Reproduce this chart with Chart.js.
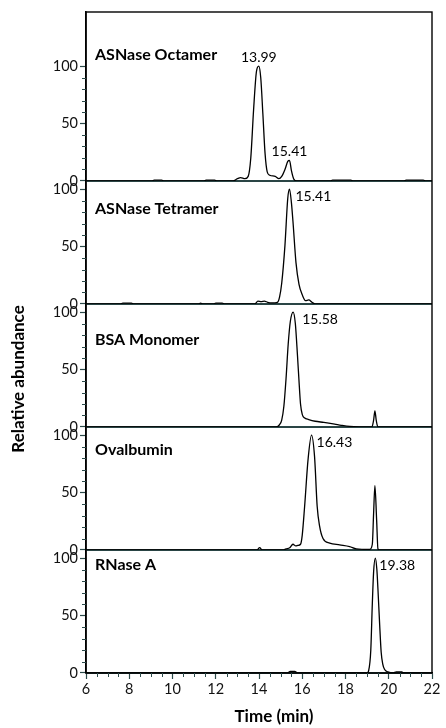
<!DOCTYPE html>
<html lang="en">
<head>
    <meta charset="UTF-8" />
    <title>SEC chromatograms</title>
    <script src="https://cdn.jsdelivr.net/npm/chart.js"></script>
    <style>
        html, body { margin: 0; padding: 0; background: #fff; }
        #wrap { position: relative; width: 446px; height: 728px; }
    </style>
</head>
<body>
<div id="wrap"><canvas id="secChart"></canvas></div>

<script>
// protein standards, one trace per panel (top to bottom)
const panelNames = ['ASNase Octamer', 'ASNase Tetramer', 'BSA Monomer', 'Ovalbumin', 'RNase A'];
const yMax = [147, 107, 107, 107, 107];

const octamerTime  = [6, 9.05, 9.15, 9.5, 9.6, 11.45, 11.55, 11.95, 12.05, 12.8, 13.0, 13.15, 13.35, 13.5, 13.62, 13.75, 13.88, 13.99, 14.08, 14.18, 14.28, 14.38, 14.5, 14.75, 14.92, 15.05, 15.2, 15.33, 15.41, 15.5, 15.6, 15.75, 17.3, 17.4, 18.25, 18.35, 20.7, 20.8, 21.6, 21.7, 22];
const octamerAbund = [0, 0, 0.8, 0.8, 0, 0, 0.8, 0.8, 0, 0, 2, 3, 2, 4, 20, 62, 95, 100, 90, 58, 24, 8, 5, 4, 2, 4, 10, 17, 18, 9, 2, 0, 0, 0.8, 0.8, 0, 0, 0.8, 0.8, 0, 0];

const tetramerTime  = [6, 7.6, 7.7, 8.1, 8.2, 11.2, 11.3, 11.4, 11.9, 12.0, 12.3, 12.4, 13.8, 13.95, 14.1, 14.25, 14.4, 14.6, 14.85, 14.95, 15.05, 15.2, 15.33, 15.41, 15.5, 15.57, 15.71, 15.85, 16.0, 16.15, 16.3, 16.45, 16.6, 22];
const tetramerAbund = [0, 0, 0.8, 0.8, 0, 0, 0.8, 0, 0, 0.8, 0.8, 0, 0, 2.5, 2, 2.5, 1.5, 1, 1.5, 6, 18, 51, 92, 100, 88, 72, 36, 17, 8, 3, 3.5, 1.5, 0, 0];

const bsaTime  = [6, 14.8, 14.95, 15.05, 15.15, 15.25, 15.35, 15.45, 15.58, 15.68, 15.78, 15.85, 15.92, 16.0, 16.1, 16.3, 16.6, 17.0, 17.5, 17.8, 18.2, 19.22, 19.3, 19.36, 19.42, 19.5, 22];
const bsaAbund = [0, 0, 2, 6, 18, 42, 72, 92, 100, 90, 62, 40, 20, 11, 8, 6.5, 5, 4, 2.5, 1.5, 0.5, 0, 6, 14, 6, 0, 0];

const ovalbuminTime  = [6, 13.9, 14.03, 14.15, 15.1, 15.25, 15.42, 15.57, 15.7, 15.8, 15.92, 16.0, 16.11, 16.27, 16.43, 16.57, 16.69, 16.8, 16.96, 17.27, 17.73, 18.19, 18.5, 19.12, 19.24, 19.3, 19.36, 19.44, 19.5, 19.6, 22];
const ovalbuminAbund = [0, 0, 2, 0, 0, 1, 2, 5, 3.5, 4, 5, 13, 38, 79, 100, 81, 38, 21, 10, 6, 4.5, 3, 1, 0.5, 5, 32, 56, 26, 1, 0, 0];

const rnaseTime  = [6, 15.3, 15.45, 15.65, 15.8, 19.0, 19.07, 19.17, 19.24, 19.3, 19.38, 19.45, 19.5, 19.58, 19.65, 19.72, 19.81, 19.96, 20.2, 20.35, 20.6, 20.7, 22];
const rnaseAbund = [0, 0, 1.5, 1.5, 0, 0, 2, 20, 60, 88, 100, 90, 73, 42, 18, 8, 3, 1, 0, 1, 1, 0, 0];

// labelled peak apexes per panel
const peakTimes   = [[13.99, 15.41], [15.41], [15.58], [16.43], [19.38]];
const peakHeights = [[100, 18], [100], [100], [100], [100]];

const xTicks = [6, 8, 10, 12, 14, 16, 18, 20, 22];
const yTicks = [0, 50, 100];

const traces = [
    [octamerTime, octamerAbund],
    [tetramerTime, tetramerAbund],
    [bsaTime, bsaAbund],
    [ovalbuminTime, ovalbuminAbund],
    [rnaseTime, rnaseAbund]
];

const tickColor = '#2c4a4a';
const nameLevel = [110, 83, 76, 87, 94];   // where each panel name sits, in y units
const labelDx = [0, 6, 9, 5, 4];
const FONT = 'Lato, "Open Sans", sans-serif';

Chart.defaults.font.family = FONT;
Chart.defaults.color = '#111';

const yId = i => 'y' + i;

const scales = {
    x: {
        type: 'linear',
        min: 6,
        max: 22,
        afterBuildTicks: s => { s.ticks = xTicks.map(v => ({ value: v })); },
        ticks: { font: { size: 14.5 }, color: '#111', padding: 2, maxRotation: 0 },
        grid: { drawOnChartArea: false, tickLength: 6, tickColor: tickColor, tickWidth: 1.2 },
        border: { color: '#000', width: 1.6 },
        afterFit: s => { s.height = 55; }
    }
};

// stacked axes are laid out bottom-up, so add the lowest panel first
for (let i = panelNames.length - 1; i >= 0; i--) {
    scales[yId(i)] = {
        type: 'linear',
        position: 'left',
        stack: 'panels',
        stackWeight: yMax[i],
        min: 0,
        max: yMax[i],
        afterBuildTicks: s => { s.ticks = yTicks.map(v => ({ value: v })); },
        ticks: { font: { size: 14.5 }, color: '#111', padding: 2 },
        grid: { drawOnChartArea: false, tickLength: 6, tickColor: tickColor, tickWidth: 1.2 },
        border: { color: '#000', width: 1.6 },
        afterFit: s => { s.width = 86; }
    };
}

const datasets = traces.map(([t, a], i) => ({
    label: panelNames[i],
    data: t.map((x, k) => ({ x: x, y: a[k] })),
    yAxisID: yId(i),
    borderColor: '#000',
    borderWidth: 1.3,
    pointRadius: 0,
    cubicInterpolationMode: 'monotone',
    fill: false
}));

// separators, frame, minor ticks and text on the plot
const decorations = {
    id: 'decorations',
    beforeDatasetsDraw(chart) {
        const ctx = chart.ctx, area = chart.chartArea;
        ctx.save();
        panelNames.forEach((n, i) => {
            const y = chart.scales[yId(i)].getPixelForValue(0);
            ctx.strokeStyle = '#2a4545';
            ctx.lineWidth = 2;
            ctx.beginPath();
            ctx.moveTo(area.left, y);
            ctx.lineTo(area.right, y);
            ctx.stroke();
        });
        ctx.restore();
    },
    afterDatasetsDraw(chart) {
        const ctx = chart.ctx, area = chart.chartArea;
        const xs = chart.scales.x;
        ctx.save();

        // outer frame
        ctx.strokeStyle = '#000';
        ctx.lineWidth = 1.4;
        ctx.strokeRect(area.left, area.top, area.right - area.left, area.bottom - area.top);

        // minor ticks
        ctx.strokeStyle = tickColor;
        ctx.lineWidth = 1;
        ctx.beginPath();
        for (let v = 6.5; v < 22; v += 0.5) {
            if (v % 2 === 0) continue;
            const px = Math.round(xs.getPixelForValue(v)) + 0.5;
            ctx.moveTo(px, area.bottom);
            ctx.lineTo(px, area.bottom + 4);
        }
        panelNames.forEach((n, i) => {
            const ys = chart.scales[yId(i)];
            for (let v = 10; v < 100; v += 10) {
                if (v === 50) continue;
                const py = Math.round(ys.getPixelForValue(v)) + 0.5;
                ctx.moveTo(area.left - 4, py);
                ctx.lineTo(area.left, py);
            }
        });
        ctx.stroke();

        // panel names and peak retention times
        ctx.fillStyle = '#000';
        panelNames.forEach((name, i) => {
            const ys = chart.scales[yId(i)];
            ctx.font = 'bold 16px ' + FONT;
            ctx.textAlign = 'left';
            ctx.textBaseline = 'middle';
            ctx.fillText(name, area.left + 9, ys.getPixelForValue(nameLevel[i]));

            ctx.font = '14px ' + FONT;
            peakTimes[i].forEach((t, k) => {
                const px = xs.getPixelForValue(t);
                const py = ys.getPixelForValue(peakHeights[i][k]);
                if (i === 0) {
                    ctx.textAlign = 'center';
                    ctx.textBaseline = 'bottom';
                    ctx.fillText(t.toFixed(2), px, py - 2);
                } else {
                    ctx.textAlign = 'left';
                    ctx.textBaseline = 'top';
                    ctx.fillText(t.toFixed(2), px + labelDx[i], py);
                }
            });
        });

        // axis titles
        ctx.font = 'bold 17px ' + FONT;
        ctx.textAlign = 'center';
        ctx.textBaseline = 'middle';
        ctx.fillText('Time (min)', 274, 717);
        ctx.translate(19, 379);
        ctx.rotate(-Math.PI / 2);
        ctx.fillText('Relative abundance', 0, 0);
        ctx.restore();
    }
};

new Chart(document.getElementById('secChart'), {
    type: 'line',
    data: { datasets: datasets },
    options: {
        responsive: true,
        maintainAspectRatio: false,
        animation: false,
        layout: { padding: { top: 12, right: 14, left: 0, bottom: 0 } },
        plugins: { legend: { display: false }, tooltip: { enabled: false } },
        scales: scales
    },
    plugins: [decorations]
});
</script>
</body>
</html>
